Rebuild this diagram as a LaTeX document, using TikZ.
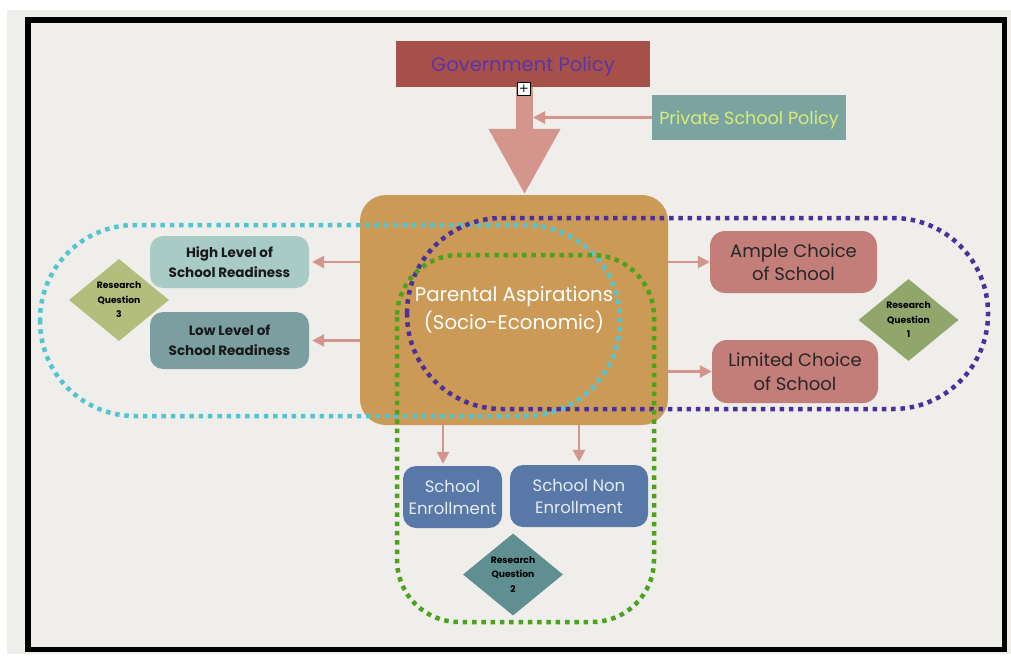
\documentclass[tikz,border=0pt]{standalone}
\usepackage{fontspec}
\setmainfont{Poppins}
\newfontfamily\symfont{DejaVu Sans}
\usetikzlibrary{arrows.meta,shapes.geometric}
\definecolor{paper}{HTML}{EFEEEA}
\definecolor{govred}{HTML}{A5514A}
\definecolor{govtext}{HTML}{5B35A6}
\definecolor{privfill}{HTML}{7BA3A0}
\definecolor{privtext}{HTML}{D7EE78}
\definecolor{salmon}{HTML}{D4958C}
\definecolor{parfill}{HTML}{CC9A57}
\definecolor{highfill}{HTML}{A8CBC5}
\definecolor{lowfill}{HTML}{7B9FA0}
\definecolor{rosefill}{HTML}{C47E7A}
\definecolor{rqone}{HTML}{90A66B}
\definecolor{rqthree}{HTML}{B3BD7C}
\definecolor{rqtwo}{HTML}{5F8F90}
\definecolor{bluefill}{HTML}{5878A8}
\definecolor{bluetext}{HTML}{E6ECF4}
\definecolor{cyanloop}{HTML}{52C6D0}
\definecolor{purpleloop}{HTML}{4B2F9A}
\definecolor{greenloop}{HTML}{4BA21B}
\newcommand\fsz[2]{\fontsize{#1}{#2}\selectfont}
\begin{document}
\begin{tikzpicture}[x=1pt,y=-1pt,
  plainbox/.style={inner sep=0pt, align=center},
  roundbox/.style={plainbox, rounded corners=13pt},
  rq/.style={diamond, inner sep=0pt, aspect=1.22, minimum width=100pt, minimum height=82pt, align=center, font=\bfseries\fsz{9.2}{14.5}, text=black},
  thinarrow/.style={draw=salmon, line width=2.5pt, -{Triangle[length=12pt,width=12pt]}},
  bigarrow/.style={draw=salmon, line width=17pt, -{Triangle[length=66pt,width=67pt]}},
  loop/.style={line width=4.5pt, dash pattern=on 4.5pt off 4.8pt}
]
\useasboundingbox (0,0) rectangle (1011,658);
\fill[white] (0,0) rectangle (1011,658);
\fill[paper] (7,10) rectangle (1011,654);
\draw[line width=5.5pt] (28,20) rectangle (1004.5,649.5);

% top
\node[plainbox, fill=govred, text=govtext, minimum width=254pt, minimum height=46pt, font=\fsz{19.5}{24}] (gov) at (523,64) {\raisebox{-3pt}[10pt][0pt]{Government Policy}};
\node[plainbox, fill=privfill, text=privtext, minimum width=194pt, minimum height=45pt, font=\fsz{17.6}{22}] (priv) at (749,117.5) {\raisebox{-2pt}[10pt][0pt]{Private School Policy}};

% centre
\node[plainbox, rounded corners=26pt, fill=parfill, text=white, minimum width=308pt, minimum height=230pt, font=\fsz{19.8}{28}] (par) at (514,310) {Parental Aspirations\\(Socio-Economic)};

% left
\node[roundbox, fill=highfill, text=black!90, minimum width=159pt, minimum height=52pt, font=\bfseries\fsz{13.5}{20}] (high) at (229.5,262) {High Level of\\School Readiness};
\node[roundbox, fill=lowfill, text=black!90, minimum width=159pt, minimum height=57pt, font=\bfseries\fsz{13.5}{20}] (low) at (229.5,340.5) {Low Level of\\School Readiness};
\node[rq, fill=rqthree] (rq3) at (119,300) {Research\\Question\\3};

% right
\node[roundbox, rounded corners=15pt, fill=rosefill, text=black!85, minimum width=167pt, minimum height=62pt, font=\fsz{18}{23.5}] (ample) at (793.5,262) {Ample Choice\\of School};
\node[roundbox, rounded corners=15pt, fill=rosefill, text=black!85, minimum width=166pt, minimum height=63pt, font=\fsz{18}{23.5}] (limited) at (795,371.5) {Limited Choice\\of School};
\node[rq, fill=rqone] (rq1) at (908.5,320) {Research\\Question\\1};

% bottom
\node[roundbox, fill=bluefill, text=bluetext, minimum width=99pt, minimum height=62pt, font=\fsz{16.5}{22}] (enr) at (452.5,497) {School\\Enrollment};
\node[roundbox, fill=bluefill, text=bluetext, minimum width=138pt, minimum height=62pt, font=\fsz{16.5}{22}] (non) at (579,496) {School Non\\Enrollment};
\node[rq, fill=rqtwo] (rq2) at (513,574.5) {Research\\Question\\2};

% loops
\draw[loop, draw=cyanloop, rounded corners=95pt] (40,225) rectangle (620,416);
\draw[loop, draw=purpleloop, rounded corners=95pt] (407,218) rectangle (988,409);
\draw[loop, draw=greenloop, rounded corners=62pt] (397,255) rectangle (654,622);

% connectors
\coordinate (ax) at (524.5,0);
\coordinate (sr) at (533,0);
\draw[bigarrow] (gov.south -| ax) -- (par.north -| ax);
\draw[thinarrow] (priv.west) -- (priv.west -| sr);
\node[draw=black, fill=white, line width=0.8pt, minimum width=13pt, minimum height=13pt, inner sep=0pt, font=\symfont\fsz{12}{12}] (plus) at (524,88.5) {+};

\draw[thinarrow, shorten >=3pt] (par.west |- high.east) -- (high.east);
\draw[thinarrow, shorten >=3pt] (par.west |- low.east) -- (low.east);
\draw[thinarrow] (par.east |- ample.west) -- (ample.west);
\draw[thinarrow] (par.east |- limited.west) -- (limited.west);
\coordinate (ex) at (443,0);
\draw[thinarrow, shorten >=2pt] (par.south -| ex) -- (enr.north -| ex);
\draw[thinarrow, shorten >=3pt] (par.south -| non.north) -- (non.north);
\end{tikzpicture}
\end{document}
